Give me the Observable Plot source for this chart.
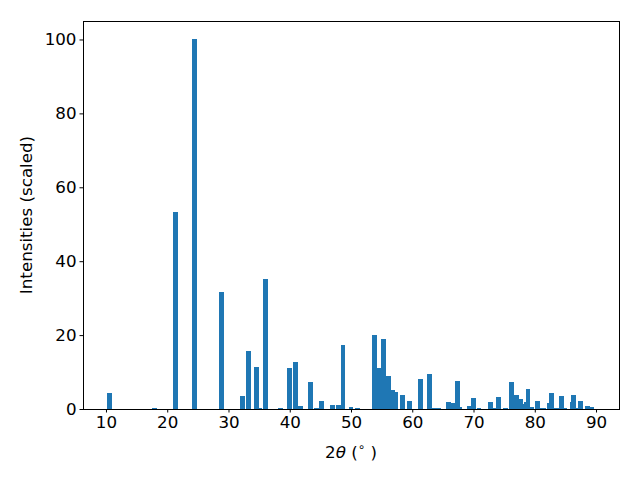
<!DOCTYPE html>
<html>
<head>
<meta charset="utf-8">
<script src="https://cdn.jsdelivr.net/npm/d3@7"></script>
<script src="https://cdn.jsdelivr.net/npm/@observablehq/plot@0.6"></script>
<style>
  body { margin: 0; background: white; }
  svg { font-family: "DejaVu Sans", sans-serif; }
</style>
</head>
<body>
<div id="chart"></div>
<script>
// Peak positions (2θ, degrees) and scaled intensities
const twoTheta = [
  10.6, 17.9, 21.3, 24.4, 28.8, 32.3, 33.25, 34.55, 35.1, 36.0,
  38.5, 39.9, 40.9, 41.7, 43.35, 44.35, 45.15, 46.95, 47.9, 48.7,
  50.0, 51.0, 53.8, 54.45, 55.27, 56.08, 56.73, 57.22, 58.36, 59.5,
  61.3, 62.77, 63.6, 64.3, 65.87, 66.68, 67.33, 67.8, 69.3, 69.94,
  70.9, 72.72, 73.3, 74.02, 75.2, 76.14, 76.96, 77.61, 78.26, 78.59,
  78.9, 79.4, 80.38, 81.0, 81.5, 82.34, 82.67, 83.5, 84.3, 84.9,
  86.1, 86.26, 86.9, 87.4, 88.54, 89.2
];
const intensity = [
  4.2, 0.3, 53.4, 100, 31.6, 3.6, 15.6, 11.5, 0.4, 35.2,
  0.3, 11.2, 12.6, 0.7, 7.2, 0.3, 2.3, 1.2, 1.2, 17.2,
  0.5, 0.3, 19.9, 11.0, 18.9, 8.8, 5.2, 4.7, 3.9, 2.3,
  8.0, 9.6, 0.3, 0.3, 2.0, 1.7, 7.7, 0.6, 0.9, 3.1,
  0.3, 2.0, 0.2, 3.3, 0.3, 7.2, 3.9, 2.8, 1.4, 2.0,
  5.5, 0.5, 2.3, 0.4, 0.4, 1.7, 4.4, 0.3, 3.6, 0.3,
  2.0, 3.9, 0.3, 2.3, 0.9, 0.5
];
const xTicks = [10, 20, 30, 40, 50, 60, 70, 80, 90];
const yTicks = [0, 20, 40, 60, 80, 100];

const data = twoTheta.map((x, i) => ({x, y: intensity[i]}));
const barWidth = 0.8;
const fs = 16.7;

const plot = Plot.plot({
  width: 640,
  height: 480,
  marginLeft: 83,
  marginRight: 21,
  marginTop: 21,
  marginBottom: 71,
  style: {fontFamily: "DejaVu Sans, sans-serif", fontSize: fs + "px", background: "white", color: "black"},
  x: {domain: [6.25, 93.75]},
  y: {domain: [0, 105]},
  marks: [
    Plot.rectY(data, {
      x1: d => d.x - barWidth / 2,
      x2: d => d.x + barWidth / 2,
      y: "y",
      fill: "#1f77b4",
      inset: 0,
      shapeRendering: "crispEdges"
    }),
    Plot.axisX({ticks: xTicks, tickSize: 3.5, tickPadding: 3.5, label: null, fontSize: fs, tickFormat: d3.format("d")}),
    Plot.axisY({ticks: yTicks, tickSize: 3.5, tickPadding: 3.5, label: null, fontSize: fs, tickFormat: d3.format("d")}),
    Plot.frame({stroke: "black", strokeWidth: 1})
  ]
});

document.getElementById("chart").appendChild(plot);

const svg = d3.select(plot);
// y-axis label
svg.append("text")
  .attr("transform", "translate(26,215) rotate(-90)")
  .attr("text-anchor", "middle")
  .attr("dominant-baseline", "central")
  .attr("font-size", fs)
  .attr("fill", "black")
  .text("Intensities (scaled)");

// x-axis label: 2θ (°)
const xl = svg.append("text")
  .attr("x", 351)
  .attr("y", 458)
  .attr("text-anchor", "middle")
  .attr("font-size", fs)
  .attr("fill", "black");
xl.append("tspan").text("2");
xl.append("tspan").attr("font-style", "italic").text("θ");
xl.append("tspan").text(" (");
xl.append("tspan").attr("font-size", fs * 0.7).attr("dy", -7).text("∘");
xl.append("tspan").attr("dy", 7).text(" )");
</script>
</body>
</html>
